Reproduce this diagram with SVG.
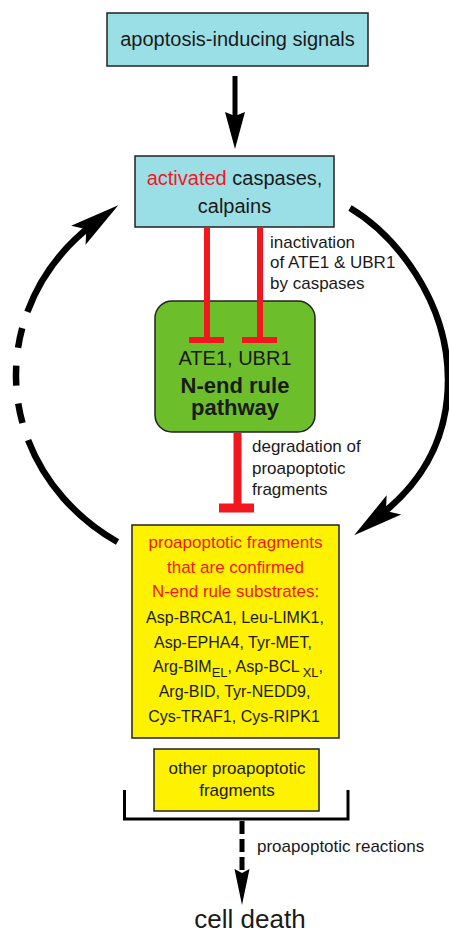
<svg xmlns="http://www.w3.org/2000/svg" width="449" height="934" viewBox="0 0 449 934">
<style>
text{font-family:"Liberation Sans",Arial,sans-serif;fill:#1a1a1a}
.box{stroke:#222;stroke-width:1.5}
.cyan{fill:#9BDFE6}
.green{fill:#6DBE2B}
.yellow{fill:#FFF200}
.t20{font-size:20px;text-anchor:middle}
.b22{font-size:22px;font-weight:bold;text-anchor:middle}
.t17{font-size:17px}
.c17{font-size:17px;text-anchor:middle}
.c16{font-size:16px;text-anchor:middle}
.inh{stroke:#F2171F;fill:none}
.arc{stroke:#000;fill:none;stroke-width:6.5}
</style>
<defs>
<marker id="headStraight" markerUnits="userSpaceOnUse" markerWidth="40" markerHeight="24" refX="4" refY="10" orient="auto" overflow="visible">
<path d="M0,0 L37,10 L0,20 L4,10 Z" fill="#000"/>
</marker>
<marker id="headCurve" markerUnits="userSpaceOnUse" markerWidth="52" markerHeight="26" refX="20" refY="12" orient="auto" overflow="visible">
<path d="M0,0 L50,12 L0,24 L10,12 Z" fill="#000"/>
</marker>
<marker id="headDash" markerUnits="userSpaceOnUse" markerWidth="40" markerHeight="18" refX="4" refY="7.5" orient="auto" overflow="visible">
<path d="M0,0 L36,7.5 L0,15 L4,7.5 Z" fill="#000"/>
</marker>
</defs>

<g id="signals">
<rect class="box cyan" x="107" y="13" width="261" height="53"/>
<text class="t20" x="237.5" y="46">apoptosis-inducing signals</text>
</g>

<g id="caspases">
<rect class="box cyan" x="135" y="156" width="199" height="71"/>
<text class="t20" x="234.5" y="185"><tspan style="fill:#F2171F">activated</tspan> caspases,</text>
<text class="t20" x="234.5" y="213">calpains</text>
</g>

<g id="nend">
<rect class="box green" x="155" y="301" width="160" height="131" rx="17" ry="17"/>
<text class="t20" x="235" y="365">ATE1, UBR1</text>
<text class="b22" x="235" y="393">N-end rule<tspan x="235" dy="22">pathway</tspan></text>
</g>

<g id="fragments">
<rect class="box yellow" x="132" y="525" width="207" height="213"/>
<text class="c17" x="235.5" y="548" style="fill:#F2171F">proapoptotic fragments</text>
<text class="c17" x="235.5" y="573" style="fill:#F2171F">that are confirmed</text>
<text class="c17" x="235.5" y="597" style="fill:#F2171F">N-end rule substrates:</text>
<text class="c16" x="235" y="623">Asp-BRCA1, Leu-LIMK1,</text>
<text class="c16" x="233" y="648">Asp-EPHA4, Tyr-MET,</text>
<text class="c16" x="238" y="672">Arg-BIM<tspan dy="5" font-size="13">EL</tspan><tspan dy="-5">, Asp-BCL</tspan><tspan dx="3" dy="5" font-size="13">XL</tspan><tspan dy="-5">,</tspan></text>
<text class="c16" x="234.5" y="697">Arg-BID, Tyr-NEDD9,</text>
<text class="c16" x="234" y="722">Cys-TRAF1, Cys-RIPK1</text>
</g>

<g id="other">
<rect class="box yellow" x="154" y="749" width="165" height="62"/>
<text class="c17" x="237" y="774">other proapoptotic</text>
<text class="c17" x="237" y="796">fragments</text>
</g>

<g id="celldeath">
<text x="250" y="928" style="font-size:26px;text-anchor:middle">cell death</text>
</g>

<g id="connectors">
<line x1="235" y1="76" x2="235" y2="116" stroke="#000" stroke-width="5" marker-end="url(#headStraight)"/>
<line class="inh" x1="207" y1="227.8" x2="207" y2="340" stroke-width="6"/>
<line class="inh" x1="260" y1="227.8" x2="260" y2="340" stroke-width="6"/>
<line class="inh" x1="189" y1="340" x2="224" y2="340" stroke-width="6"/>
<line class="inh" x1="242" y1="340" x2="277" y2="340" stroke-width="6"/>
<line class="inh" x1="237.5" y1="432.8" x2="237.5" y2="508" stroke-width="8"/>
<line class="inh" x1="219" y1="508" x2="254" y2="508" stroke-width="9"/>
<path class="arc" d="M350,208 C395,235 448,300 448,380 C448,440 420,485 378,517" marker-end="url(#headCurve)"/>
<path class="arc" d="M117.5,542 A216,197 0 0 1 28.1,440.1"/>
<path class="arc" d="M28.1,440.1 A216,197 0 0 1 27.4,311.8" stroke-dasharray="20 18" stroke-dashoffset="20"/>
<path class="arc" d="M27.4,311.8 A216,197 0 0 1 94.3,223.2" marker-end="url(#headCurve)"/>
<path d="M124.5,790 V819 H348 V790" fill="none" stroke="#000" stroke-width="3"/>
<line x1="242" y1="821" x2="242" y2="873" stroke="#000" stroke-width="5" stroke-dasharray="13 5" marker-end="url(#headDash)"/>
<text class="t17" x="270" y="248">inactivation</text>
<text class="t17" x="270" y="268">of ATE1 &amp; UBR1</text>
<text class="t17" x="270" y="289">by caspases</text>
<text class="t17" x="252" y="452">degradation of</text>
<text class="t17" x="252" y="474">proapoptotic</text>
<text class="t17" x="252" y="495">fragments</text>
<text class="t17" x="257" y="852">proapoptotic reactions</text>
</g>
</svg>
